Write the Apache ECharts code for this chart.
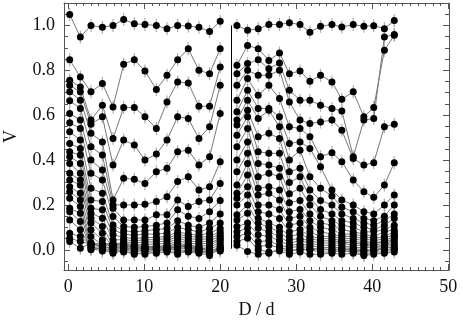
<!DOCTYPE html>
<html><head><meta charset="utf-8">
<script src="https://cdn.jsdelivr.net/npm/echarts@6/dist/echarts.min.js"></script>
<style>html,body{margin:0;padding:0;background:#fff}#c{width:463px;height:324px}</style>
</head><body><div id="c"></div>
<script>
// D/d positions of the two measurement groups
const dLeft  = [0.2,1.6,3.0,4.5,5.9,7.3,8.7,10.1,11.6,13.0,14.4,15.8,17.2,18.6,20.0];
const dRight = [22.2,23.6,25.0,26.4,27.8,29.1,30.5,31.8,33.2,34.7,36.0,37.5,38.9,40.2,41.6,42.9];

// Left group curves (V values)
const L01 = [1.049,0.948,1.000,0.992,1.000,1.027,1.007,1.004,1.000,0.985,1.000,0.997,0.992,0.973,1.019];
const L02 = [0.847,0.770,0.704,0.741,0.637,0.827,0.847,0.797,0.714,0.778,0.847,0.896,0.800,0.785,0.896];
const L03 = [0.756,0.726,0.578,0.644,0.496,0.634,0.634,0.593,0.541,0.659,0.748,0.744,0.640,0.640,0.815];
const L04 = [0.733,0.704,0.560,0.593,0.378,0.489,0.467,0.400,0.427,0.489,0.593,0.585,0.496,0.548,0.733];
const L05 = [0.704,0.667,0.519,0.481,0.222,0.319,0.314,0.296,0.348,0.363,0.437,0.444,0.378,0.415,0.607];
const L06 = [0.664,0.630,0.459,0.422,0.200,0.200,0.200,0.203,0.215,0.237,0.304,0.326,0.267,0.281,0.393];
const L07 = [0.607,0.578,0.400,0.356,0.185,0.133,0.133,0.133,0.156,0.156,0.222,0.193,0.215,0.222,0.296];
const L08 = [0.566,0.541,0.341,0.311,0.148,0.104,0.100,0.104,0.110,0.120,0.178,0.150,0.140,0.170,0.220];
const L09 = [0.526,0.489,0.274,0.252,0.111,0.085,0.080,0.085,0.090,0.095,0.130,0.110,0.100,0.120,0.160];
const L10 = [0.474,0.452,0.222,0.215,0.089,0.070,0.065,0.070,0.070,0.075,0.100,0.090,0.080,0.095,0.120];
const L11 = [0.437,0.422,0.185,0.178,0.067,0.055,0.050,0.055,0.055,0.060,0.080,0.070,0.065,0.075,0.095];
const L12 = [0.415,0.385,0.163,0.141,0.044,0.045,0.040,0.045,0.045,0.050,0.070,0.060,0.055,0.060,0.080];
const L13 = [0.385,0.341,0.141,0.104,0.022,0.035,0.030,0.035,0.035,0.040,0.060,0.050,0.045,0.050,0.070];
const L14 = [0.341,0.311,0.119,0.074,0.010,0.030,0.020,0.025,0.025,0.030,0.050,0.040,0.035,0.040,0.060];
const L15 = [0.311,0.289,0.089,0.044,0.000,0.020,0.010,0.015,0.015,0.020,0.040,0.030,0.025,0.030,0.050];
const L16 = [0.281,0.252,0.059,0.022,-0.005,0.010,0.000,0.010,0.010,0.015,0.030,0.020,0.015,0.020,0.045];
const L17 = [0.259,0.222,0.030,0.010,-0.010,0.000,-0.010,0.000,0.005,0.010,0.020,0.010,0.005,0.010,0.035];
const L18 = [0.230,0.193,0.015,0.000,-0.015,-0.005,-0.020,-0.010,0.000,0.005,0.010,0.005,0.000,0.000,0.025];
const L19 = [0.185,0.163,0.005,-0.005,0.005,-0.010,-0.015,-0.020,-0.010,0.000,0.000,-0.005,-0.010,-0.010,0.015];
const L20 = [0.170,0.126,0.000,0.010,0.010,0.005,-0.005,-0.005,-0.015,-0.010,-0.010,-0.010,-0.015,-0.025,0.010];
const L21 = [0.133,0.089,0.010,0.005,0.015,0.010,0.005,0.000,0.000,-0.005,-0.020,0.000,-0.005,-0.020,0.005];
const L22 = [0.074,0.059,0.020,0.015,0.020,0.015,0.010,0.005,0.005,0.000,0.005,0.010,0.000,-0.015,0.000];
const L23 = [0.052,0.037,0.025,0.020,0.025,0.020,0.015,0.010,0.010,0.005,0.015,0.015,0.005,-0.005,-0.005];
const L24 = [0.037,0.007,0.030,0.025,0.030,0.025,0.020,0.015,0.015,0.010,0.020,0.020,0.010,0.000,0.003];

// Right group curves (V values)
const R01 = [1.000,0.978,0.985,1.004,1.004,1.012,1.004,0.970,0.996,1.004,0.993,1.004,0.996,0.999,0.985,1.022];
const R02 = [0.822,0.911,0.896,0.844,0.877,0.785,0.797,0.751,0.778,0.748,0.671,0.704,0.593,0.634,0.889,0.956];
const R03 = [0.785,0.830,0.847,0.807,0.833,0.711,0.667,0.667,0.644,0.630,0.619,0.415,0.578,0.585,0.948,0.960];
const R04 = [0.733,0.800,0.778,0.778,0.800,0.659,0.578,0.563,0.570,0.578,0.533,0.407,0.378,0.388,0.548,0.560];
const R05 = [0.667,0.763,0.689,0.733,0.674,0.548,0.541,0.504,0.415,0.433,0.393,0.311,0.259,0.234,0.289,0.388];
const R06 = [0.615,0.711,0.630,0.630,0.593,0.474,0.481,0.452,0.370,0.267,0.222,0.200,0.170,0.160,0.200,0.244];
const R07 = [0.578,0.667,0.585,0.622,0.548,0.400,0.444,0.326,0.274,0.240,0.190,0.170,0.140,0.130,0.150,0.200];
const R08 = [0.556,0.622,0.504,0.519,0.496,0.348,0.363,0.267,0.220,0.200,0.160,0.140,0.120,0.110,0.130,0.160];
const R09 = [0.511,0.593,0.437,0.430,0.430,0.300,0.326,0.230,0.180,0.160,0.130,0.120,0.100,0.090,0.110,0.140];
const R10 = [0.459,0.541,0.385,0.378,0.363,0.250,0.274,0.200,0.150,0.130,0.110,0.100,0.080,0.080,0.090,0.110];
const R11 = [0.400,0.481,0.326,0.341,0.326,0.210,0.220,0.160,0.120,0.110,0.090,0.080,0.070,0.060,0.080,0.090];
const R12 = [0.348,0.430,0.274,0.281,0.267,0.170,0.180,0.130,0.100,0.090,0.070,0.070,0.060,0.050,0.060,0.080];
const R13 = [0.289,0.385,0.244,0.252,0.222,0.140,0.150,0.100,0.080,0.070,0.060,0.060,0.050,0.040,0.050,0.070];
const R14 = [0.252,0.333,0.200,0.200,0.180,0.110,0.120,0.080,0.060,0.060,0.050,0.050,0.040,0.030,0.040,0.060];
const R15 = [0.230,0.281,0.170,0.160,0.140,0.080,0.090,0.060,0.050,0.050,0.040,0.040,0.030,0.030,0.035,0.050];
const R16 = [0.200,0.244,0.141,0.120,0.100,0.060,0.070,0.050,0.040,0.040,0.035,0.030,0.025,0.020,0.030,0.040];
const R17 = [0.156,0.200,0.119,0.100,0.080,0.045,0.050,0.040,0.030,0.030,0.030,0.020,0.020,0.015,0.020,0.030];
const R18 = [0.133,0.163,0.096,0.080,0.060,0.030,0.040,0.030,0.020,0.020,0.020,0.010,0.010,0.010,0.015,0.020];
const R19 = [0.104,0.119,0.067,0.060,0.040,0.020,0.025,0.020,0.010,0.010,0.010,0.005,0.000,0.000,0.010,0.010];
const R20 = [0.081,0.096,0.037,0.040,0.020,0.010,0.015,0.010,0.000,0.000,0.005,-0.005,-0.010,0.000,0.000,0.005];
const R21 = [0.059,0.074,0.015,0.020,0.010,0.000,0.000,0.000,-0.010,-0.010,-0.005,-0.010,-0.020,-0.010,-0.010,0.000];
const R22 = [0.037,0.052,0.000,-0.010,-0.005,-0.020,-0.010,-0.020,-0.020,-0.015,-0.020,-0.015,-0.025,-0.020,-0.015,-0.010];
const R23 = [0.020,-0.007,-0.020,-0.015,0.005,-0.010,0.005,0.000,0.005,0.000,0.000,0.000,-0.005,-0.005,0.005,0.060];

// Axis tick labels
const xTickLabels = [0,10,20,30,40,50];
const yTickLabels = [0.0,0.2,0.4,0.6,0.8,1.0];
// Divider between the two groups
const dividerD = 21.5;
const dividerV = [0.005, 1.0];

const leftCurves  = [L01,L02,L03,L04,L05,L06,L07,L08,L09,L10,L11,L12,L13,L14,L15,L16,L17,L18,L19,L20,L21,L22,L23,L24];
const rightCurves = [R01,R02,R03,R04,R05,R06,R07,R08,R09,R10,R11,R12,R13,R14,R15,R16,R17,R18,R19,R20,R21,R22,R23];

const xMinor = []; for (let i = 0; i <= 50; i++) xMinor.push(i);
const yMinor = []; for (let i = -1; i <= 21; i++) yMinor.push(+(i*0.05).toFixed(2));

const FONT = 'Liberation Serif';
const AXC = '#555';
const XMIN = -0.55, XMAX = 50.1, YMIN = -0.09, YMAX = 1.1;

function xAx(pos, ticks, len, labels, line) {
  return {
    type:'value', min:XMIN, max:XMAX, position:pos,
    axisLine:{show:line, onZero:false, lineStyle:{color:AXC, width:1}},
    axisTick:{show:true, inside:true, length:len, customValues:ticks, lineStyle:{color:AXC, width:1}},
    axisLabel:{show:labels, customValues:xTickLabels, margin:8, fontFamily:FONT, fontSize:18, color:'#111'},
    splitLine:{show:false}
  };
}
function yAx(pos, ticks, len, labels, line) {
  return {
    type:'value', min:YMIN, max:YMAX, position:pos,
    axisLine:{show:line, onZero:false, lineStyle:{color:AXC, width:1}},
    axisTick:{show:true, inside:true, length:len, customValues:ticks, lineStyle:{color:AXC, width:1}},
    axisLabel:{show:labels, customValues:yTickLabels, margin:9, fontFamily:FONT, fontSize:18, color:'#111',
      formatter:v => Number(v).toFixed(1)},
    splitLine:{show:false}
  };
}

const xAxes = [
  Object.assign(xAx('bottom', xTickLabels, 6, true, true), {name:'D / d', nameLocation:'middle', nameGap:29,
    nameTextStyle:{fontFamily:FONT, fontSize:18, color:'#111'}}),
  xAx('bottom', xMinor, 3, false, false),
  xAx('top', xTickLabels, 6, false, true),
  xAx('top', xMinor, 3, false, false)
];
const yAxes = [
  Object.assign(yAx('left', yTickLabels, 6, true, true), {name:'V', nameLocation:'middle', nameGap:44, nameRotate:90,
    nameTextStyle:{fontFamily:FONT, fontSize:18, color:'#111'}}),
  yAx('left', yMinor, 4, false, false),
  yAx('right', yTickLabels, 6, false, true),
  yAx('right', yMinor, 4, false, false)
];

const series = [];
const errPts = [];
function addGroup(ds, curves) {
  curves.forEach(c => {
    const data = ds.map((d, i) => [d, c[i]]);
    data.forEach(p => errPts.push(p));
    series.push({
      type:'line', xAxisIndex:0, yAxisIndex:0, data:data, z:3,
      symbol:'circle', symbolSize:7, showSymbol:true,
      itemStyle:{color:'#000'}, lineStyle:{color:'#777', width:1},
      emphasis:{disabled:true}, animation:false
    });
  });
}
addGroup(dLeft, leftCurves);
addGroup(dRight, rightCurves);

series.unshift({
  type:'scatter', xAxisIndex:0, yAxisIndex:0, data:errPts, z:2,
  symbol:'rect', symbolSize:[1.2, 13], itemStyle:{color:'#999'}, animation:false,
  markLine:{silent:true, symbol:['none','none'], label:{show:false},
    lineStyle:{color:'#000', width:1, type:'solid'},
    data:[[{coord:[dividerD, dividerV[0]]},{coord:[dividerD, dividerV[1]]}]]}
});

const chart = echarts.init(document.getElementById('c'), null, {renderer:'canvas'});
chart.setOption({
  animation:false,
  backgroundColor:'#fff',
  grid:{left:64, right:14, top:3, bottom:54, containLabel:false, outerBoundsMode:'none'},
  xAxis:xAxes,
  yAxis:yAxes,
  series:series
});
</script></body></html>
